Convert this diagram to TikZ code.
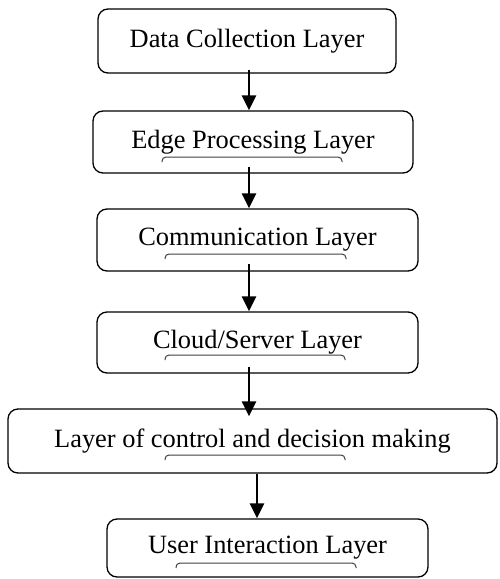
\documentclass[tikz,border=0pt]{standalone}
\usepackage{fontspec}
\setmainfont{Liberation Serif}
\usetikzlibrary{shapes,arrows.meta,positioning}

\begin{document}
\begin{tikzpicture}[% styles for all boxes, sizes in px of the page
		x=1pt,y=-1pt,
		every node/.style={
			align=center,  		% centred text
			font=\fontsize{26.4}{30}\selectfont
		},
		layer/.style={rectangle,rounded corners=10pt,draw=black,line width=1.3pt,fill=white,inner sep=0pt},
		flow/.style={-{Triangle[width=14pt,length=15pt]},line width=2.5pt},
		brk/.style={draw=black!75,line width=1pt,rounded corners=4pt}
	]
	\useasboundingbox (0,0) rectangle (499,579);
	\node[layer,minimum width=298pt,minimum height=64pt](R1) at (247,41){Data Collection Layer};
	\node[layer,minimum width=320pt,minimum height=62pt](R2) at (253,142){Edge Processing Layer};
	\node[layer,minimum width=321pt,minimum height=62pt](R3) at (257.5,240){Communication Layer};
	\node[layer,minimum width=321pt,minimum height=61pt](R4) at (257.5,342.5){Cloud/Server Layer};
	\node[layer,minimum width=489pt,minimum height=64pt](R5) at (252.5,441){Layer of control and decision making};
	\node[layer,minimum width=321pt,minimum height=58pt](R6) at (267.5,548){User Interaction Layer};
	% small marks under the texts
	\draw[brk] (162,162) -- (162,157) -- (342,157) -- (342,162);
	\draw[brk] (165,259) -- (165,254) -- (346,254) -- (346,259);
	\draw[brk] (165,360) -- (165,355) -- (345,355) -- (345,360);
	\draw[brk] (165,460) -- (165,455) -- (345,455) -- (345,460);
	\draw[brk] (176,568) -- (176,563) -- (356,563) -- (356,568);
	% arrows between the layers
	\draw[flow] ([yshift=4pt]R1.south -| 249,0) -- (R2.north -| 249,0);
	\draw[flow] ([yshift=7pt]R2.south -| 249,0) -- (R3.north -| 249,0);
	\draw[flow] ([yshift=8pt]R3.south -| 249,0) -- (R4.north -| 249,0);
	\draw[flow] ([yshift=7pt]R4.south -| 249,0) -- ([yshift=-8pt]R5.north -| 249,0);
	\draw[flow] (R5.south -| 257,0) -- (R6.north -| 257,0);
\end{tikzpicture}
\end{document}
